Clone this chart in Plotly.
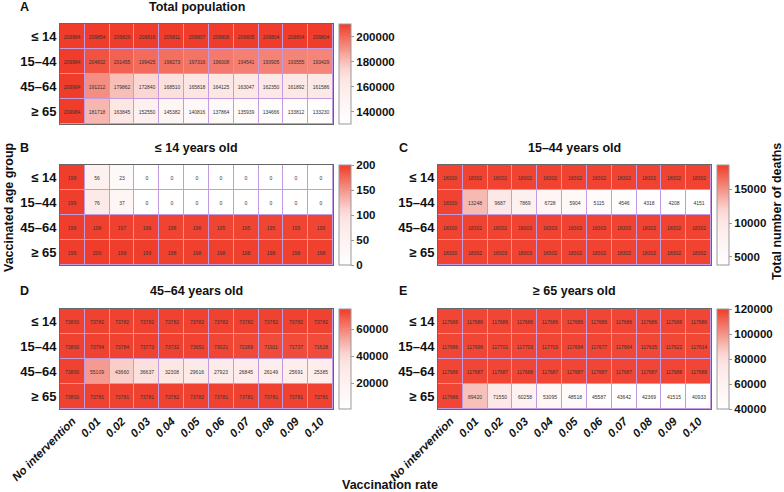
import plotly.graph_objects as go

rates = ["No intervention", "0.01", "0.02", "0.03", "0.04", "0.05",
         "0.06", "0.07", "0.08", "0.09", "0.10"]
groups = ["≤ 14", "15–44", "45–64", "≥ 65"]

total_pop = [
    [209984, 209854, 209829, 209816, 209811, 209807, 209806, 209805, 209804, 209804, 209804],
    [209984, 204832, 201455, 199425, 198273, 197316, 196008, 194541, 193905, 193555, 193429],
    [209984, 191212, 179862, 172840, 168510, 165818, 164125, 163047, 162350, 161892, 161586],
    [209984, 181718, 163845, 152550, 145382, 140816, 137864, 135939, 134666, 133812, 133230],
]
age_le14 = [
    [199, 56, 23, 0, 0, 0, 0, 0, 0, 0, 0],
    [199, 76, 37, 0, 0, 0, 0, 0, 0, 0, 0],
    [199, 198, 197, 196, 196, 196, 195, 195, 195, 195, 195],
    [199, 200, 199, 199, 198, 198, 198, 198, 198, 198, 198],
]
age_15_44 = [
    [18300, 18302, 18302, 18302, 18302, 18302, 18302, 18302, 18302, 18302, 18302],
    [18300, 13248, 9687, 7869, 6728, 5904, 5115, 4546, 4318, 4208, 4151],
    [18300, 18302, 18302, 18303, 18303, 18303, 18303, 18303, 18302, 18302, 18302],
    [18300, 18302, 18303, 18303, 18302, 18302, 18302, 18302, 18302, 18302, 18302],
]
age_45_64 = [
    [73800, 73782, 73782, 73782, 73782, 73782, 73782, 73782, 73782, 73782, 73782],
    [73800, 73794, 73784, 73773, 73732, 73651, 73021, 72369, 71911, 71737, 71628],
    [73800, 55109, 43660, 36637, 32308, 29616, 27923, 26845, 26149, 25691, 25385],
    [73800, 73781, 73781, 73781, 73782, 73782, 73781, 73781, 73781, 73781, 73781],
]
age_ge65 = [
    [117686, 117686, 117686, 117686, 117686, 117686, 117686, 117686, 117686, 117686, 117686],
    [117686, 117696, 117701, 117703, 117703, 117694, 117677, 117664, 117635, 117622, 117614],
    [117686, 117687, 117687, 117688, 117687, 117687, 117687, 117687, 117687, 117688, 117688],
    [117686, 89420, 71550, 60258, 53095, 48518, 45587, 43642, 42369, 41515, 40933],
]

W, H = 784, 492
FONT = "Liberation Sans, Arial, sans-serif"


def fx(x):
    return x / W


def fy(y):
    return 1 - y / H


cscale = [
    [0.0, "#FFFFFF"],
    [0.30, "#FDF0EF"],
    [0.45, "#FCE5E3"],
    [0.55, "#FAD5D1"],
    [0.65, "#F7B6AF"],
    [0.78, "#F4897D"],
    [0.90, "#F2604F"],
    [1.0, "#F03C2A"],
]

panels = [
    dict(z=total_pop, x0=60, x1=333, y0=24, y1=124, zmin=130000, zmax=210000,
         tv=[140000, 160000, 180000, 200000], title="Total population",
         letter="A", lx=18, ty=7, xt=False),
    dict(z=age_le14, x0=60, x1=333, y0=165, y1=265, zmin=0, zmax=200,
         tv=[0, 50, 100, 150, 200], title="≤ 14 years old",
         letter="B", lx=18, ty=148, xt=False),
    dict(z=age_15_44, x0=438, x1=711, y0=165, y1=265, zmin=3800, zmax=18600,
         tv=[5000, 10000, 15000], title="15–44 years old",
         letter="C", lx=397, ty=148, xt=False),
    dict(z=age_45_64, x0=60, x1=333, y0=309, y1=409, zmin=1000, zmax=75000,
         tv=[20000, 40000, 60000], title="45–64 years old",
         letter="D", lx=18, ty=291, xt=True),
    dict(z=age_ge65, x0=438, x1=711, y0=309, y1=409, zmin=40000, zmax=120000,
         tv=[40000, 60000, 80000, 100000, 120000], title="≥ 65 years old",
         letter="E", lx=397, ty=291, xt=True),
]

fig = go.Figure()
annotations = []
layout_axes = {}

for i, p in enumerate(panels, start=1):
    xa = "x" if i == 1 else f"x{i}"
    ya = "y" if i == 1 else f"y{i}"
    fig.add_trace(go.Heatmap(
        z=p["z"], x=rates, y=groups, xaxis=xa, yaxis=ya,
        zmin=p["zmin"], zmax=p["zmax"], colorscale=cscale,
        xgap=1, ygap=1,
        texttemplate="%{z:.0f}", textfont=dict(size=5, color="#333333", family=FONT),
        hoverinfo="skip",
        colorbar=dict(
            x=fx(p["x1"] + 6), xanchor="left", xpad=0, ypad=0,
            y=(fy(p["y0"]) + fy(p["y1"])) / 2, yanchor="middle",
            len=(p["y1"] - p["y0"]) / H, lenmode="fraction",
            thickness=12, outlinewidth=1, outlinecolor="#999999",
            tickvals=p["tv"], tickformat="d", ticks="outside", ticklen=3,
            tickcolor="#999999",
            tickfont=dict(size=11.5, family=FONT, color="#111111", weight="bold"),
        ),
    ))
    xkey = "xaxis" if i == 1 else f"xaxis{i}"
    ykey = "yaxis" if i == 1 else f"yaxis{i}"
    layout_axes[xkey] = dict(
        domain=[fx(p["x0"]), fx(p["x1"])], anchor=ya, automargin=False,
        showline=True, mirror=True, linecolor="#666666", linewidth=1,
        showgrid=False, zeroline=False, ticks="",
        showticklabels=p["xt"], tickangle=-45,
        tickfont=dict(size=11.5, family=FONT, color="#111111", weight="bold",
                      style="italic"),
    )
    layout_axes[ykey] = dict(
        domain=[fy(p["y1"]), fy(p["y0"])], anchor=xa, automargin=False,
        autorange="reversed",
        showline=True, mirror=True, linecolor="#666666", linewidth=1,
        showgrid=False, zeroline=False, ticks="",
        tickfont=dict(size=13, family=FONT, color="#111111", weight="bold"),
    )
    annotations.append(dict(
        text=f"<b>{p['title']}</b>", x=fx((p["x0"] + p["x1"]) / 2), y=fy(p["ty"]),
        xref="paper", yref="paper", xanchor="center", yanchor="middle",
        showarrow=False, font=dict(size=12.5, family=FONT, color="#111111"),
    ))
    annotations.append(dict(
        text=f"<b>{p['letter']}</b>", x=fx(p["lx"]), y=fy(p["ty"]),
        xref="paper", yref="paper", xanchor="left", yanchor="middle",
        showarrow=False, font=dict(size=12.5, family=FONT, color="#111111"),
    ))

annotations.append(dict(
    text="<b>Vaccinated age group</b>", x=fx(9), y=fy(207), textangle=-90,
    xref="paper", yref="paper", xanchor="center", yanchor="middle",
    showarrow=False, font=dict(size=12.5, family=FONT, color="#111111"),
))
annotations.append(dict(
    text="<b>Total number of deaths</b>", x=fx(777), y=fy(212), textangle=-90,
    xref="paper", yref="paper", xanchor="center", yanchor="middle",
    showarrow=False, font=dict(size=12.5, family=FONT, color="#111111"),
))
annotations.append(dict(
    text="<b>Vaccination rate</b>", x=fx(390), y=fy(485),
    xref="paper", yref="paper", xanchor="center", yanchor="middle",
    showarrow=False, font=dict(size=12.5, family=FONT, color="#111111"),
))

fig.update_layout(
    width=W, height=H,
    margin=dict(l=0, r=0, t=0, b=0, autoexpand=False),
    paper_bgcolor="white", plot_bgcolor="#C39BE0",
    font=dict(family=FONT, color="#111111"),
    annotations=annotations, showlegend=False,
    **layout_axes,
)

fig.write_html(
    "out.html",
    config={"displayModeBar": False},
    post_script="document.body.style.margin='0';document.body.style.padding='0';",
)
